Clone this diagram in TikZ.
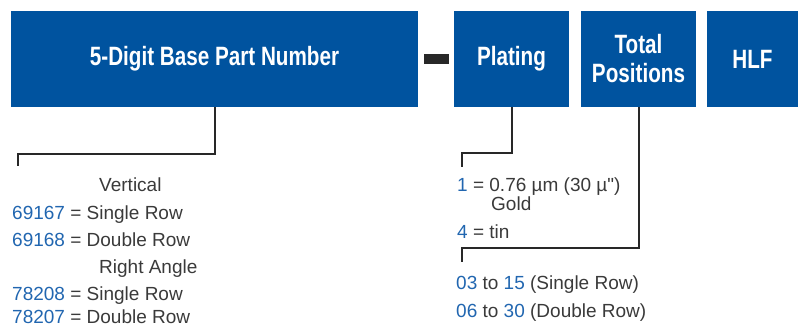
\documentclass[tikz,border=0pt]{standalone}
\usepackage{fontspec}
\setmainfont{Liberation Sans}
\newfontfamily\boxfont[FakeStretch=0.78]{Liberation Sans}
\usepackage{tikz}
\usetikzlibrary{positioning}
\definecolor{partblue}{RGB}{0,83,159}
\definecolor{codeblue}{RGB}{33,102,176}
\definecolor{textgray}{RGB}{58,58,58}
\definecolor{linegray}{RGB}{40,40,40}
\tikzstyle{partbox} = [fill=partblue, text=white, inner sep=0pt, minimum height=96pt,
	align=center, font=\boxfont\bfseries\fontsize{26.5}{29}\selectfont]
\tikzstyle{entry} = [anchor=base west, inner sep=0pt, text=textgray,
	font=\fontsize{19}{22}\selectfont]
\tikzstyle{leader} = [draw=linegray, line width=2pt]
\newcommand{\pn}[1]{\textcolor{codeblue}{#1}}
\newcommand{\inch}{{\addfontfeatures{Ligatures=TeXOff}"}}

\begin{document}
\begin{tikzpicture}[x=1pt, y=-1pt]
		\useasboundingbox (0,0) rectangle (798,326);
		\node [partbox, minimum width=407pt] (base) at (214.5,59) {5-Digit Base Part Number};
		\node [fill=linegray, inner sep=0pt, minimum width=25pt, minimum height=10pt] (dash) at (436.5,59) {};
		\node [partbox, minimum width=115pt] (plating) at (511.5,59) {Plating};
		\node [partbox, minimum width=115pt] (positions) at (638.5,59) {Total\\Positions};
		\node [partbox, minimum width=91pt] (hlf) at (752.5,59) {HLF};
	
		\node [entry] (vert) at (99,192) {Vertical};
		\node [entry] (vsingle) at (12,219) {\pn{69167} = Single Row};
		\node [entry] (vdouble) at (12,246) {\pn{69168} = Double Row};
		\node [entry] (right) at (99,273) {Right Angle};
		\node [entry] (rsingle) at (12,300) {\pn{78208} = Single Row};
		\node [entry] (rdouble) at (12,323.5) {\pn{78207} = Double Row};
	
		\node [entry] (gold) at (457,191) {\pn{1} = 0.76 µm (30 µ\inch)};
		\node [entry] (goldb) at (491,211) {Gold};
		\node [entry] (tin) at (457,238) {\pn{4} = tin};
		\node [entry] (single) at (456,289) {\pn{03} to \pn{15} (Single Row)};
		\node [entry] (double) at (456,317) {\pn{06} to \pn{30} (Double Row)};
	
		\coordinate (baseend) at (18,166);
		\coordinate (platend) at (462,167);
		\coordinate (posend) at (462,262);
		\path [leader] (base.south) -- ++(0,47) -| (baseend);
		\path [leader] (plating.south) -- ++(0,46) -| (platend);
		\path [leader] (positions.south) -- ++(0,141) -| (posend);
	\end{tikzpicture}
\end{document}
